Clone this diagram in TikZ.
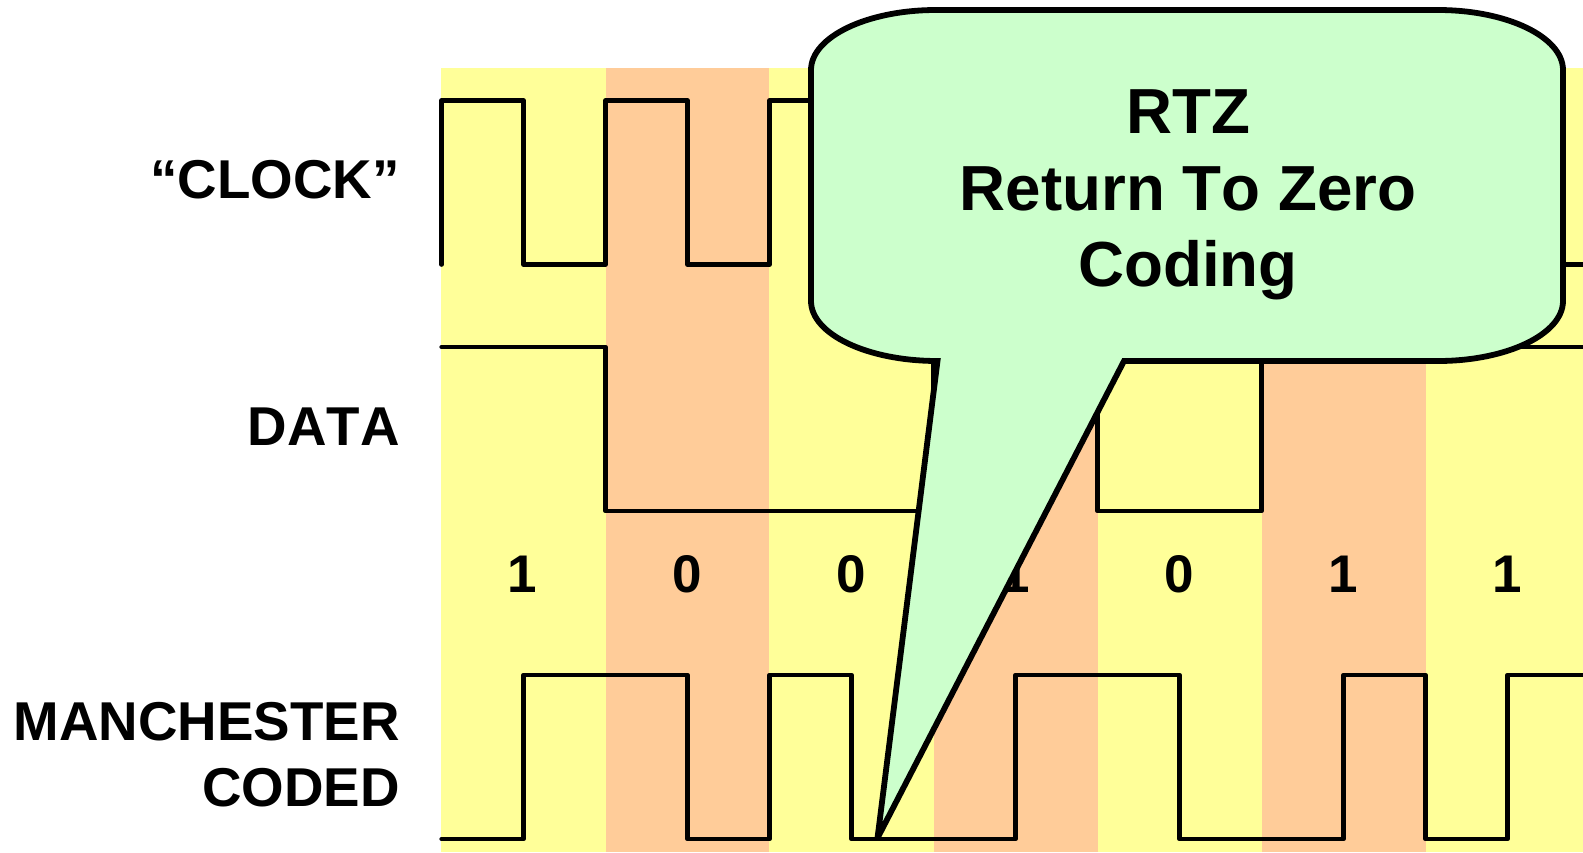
\documentclass[tikz,border=0pt]{standalone}
\usepackage{fontspec}
\setmainfont[Kerning=Off]{Liberation Sans}
\definecolor{bandY}{HTML}{FFFF99}
\definecolor{bandO}{HTML}{FFCC99}
\definecolor{bubble}{HTML}{CCFFCC}
\tikzset{
  bandy/.style={fill=bandY,draw=none},
  bando/.style={fill=bandO,draw=none},
  wave/.style={draw=black,line width=4.6pt,line cap=round,line join=round},
  callout/.style={draw=black,fill=bubble,line width=5.8pt,line join=miter,miter limit=3},
  lab/.style={font=\bfseries\fontsize{54.7}{66}\selectfont,anchor=base east,align=right,inner sep=0pt},
  digit/.style={font=\bfseries\fontsize{53}{60}\selectfont,anchor=base,inner sep=0pt},
  ctext/.style={font=\bfseries\fontsize{63.7}{76.5}\selectfont,anchor=center,align=center,inner sep=0pt}
}
\begin{document}
\begin{tikzpicture}[x=1pt,y=-1pt]
\useasboundingbox (0,0) rectangle (1583,852);
\fill[white] (0,0) rectangle (1583,852);
% bands
\path[bandy] (441,68) rectangle (606,852);
\path[bando] (606,68) rectangle (769,852);
\path[bandy] (769,68) rectangle (934,852);
\path[bando] (934,68) rectangle (1098,852);
\path[bandy] (1098,68) rectangle (1262,852);
\path[bando] (1262,68) rectangle (1426,852);
\path[bandy] (1426,68) rectangle (1583,852);
\begin{scope}[xshift=0.6pt]
% clock
\draw[wave] (441,264.5) -- (441,100.5) -- (523,100.5) -- (523,264.5) -- (605,264.5)
  -- (605,100.5) -- (687,100.5) -- (687,264.5) -- (769,264.5)
  -- (769,100.5) -- (851,100.5) -- (851,264.5) -- (933,264.5)
  -- (933,100.5) -- (1015,100.5) -- (1015,264.5) -- (1097,264.5)
  -- (1097,100.5) -- (1179,100.5) -- (1179,264.5) -- (1261,264.5)
  -- (1261,100.5) -- (1343,100.5) -- (1343,264.5) -- (1425,264.5)
  -- (1425,100.5) -- (1507,100.5) -- (1507,264.5) -- (1584,264.5);
% data
\draw[wave] (441,347) -- (605,347) -- (605,511) -- (933,511) -- (933,347) -- (1097,347)
  -- (1097,511) -- (1261,511) -- (1261,347) -- (1584,347);
% manchester
\draw[wave] (441,839) -- (523,839) -- (523,675) -- (687,675) -- (687,839) -- (769,839)
  -- (769,675) -- (851,675) -- (851,839) -- (1015,839) -- (1015,675) -- (1179,675)
  -- (1179,839) -- (1343,839) -- (1343,675) -- (1425,675) -- (1425,839) -- (1507,839)
  -- (1507,675) -- (1584,675);
\end{scope}
% labels
\node[lab] (clock) at (400,198) {“CLOCK”};
\node[lab] (data) at (400,445) {DATA};
\node[lab] (manch) at (400,806) {MANCHESTER\\CODED};
% digits
\node[digit] (d1) at (522,592) {1};
\node[digit] (d2) at (687.5,592) {0};
\node[digit] (d3) at (851.5,592) {0};
\node[digit] (d4) at (1015,592) {1};
\node[digit] (d5) at (1179.5,592) {0};
\node[digit] (d6) at (1343,592) {1};
\node[digit] (d7) at (1507,592) {1};
% callout
\draw[callout] (936,10) -- (1438,10) .. controls (1507,10) and (1563,37) .. (1563,70)
  -- (1563,301) .. controls (1563,334) and (1507,361) .. (1438,361)
  -- (1124,361) -- (877.5,838) -- (937.5,361)
  .. controls (867,361) and (811,334) .. (811,301)
  -- (811,70) .. controls (811,37) and (867,10) .. (936,10) -- cycle;
\node[ctext] (rtz) at (1188,195) {RTZ\\Return To Zero\\Coding};
\end{tikzpicture}
\end{document}
